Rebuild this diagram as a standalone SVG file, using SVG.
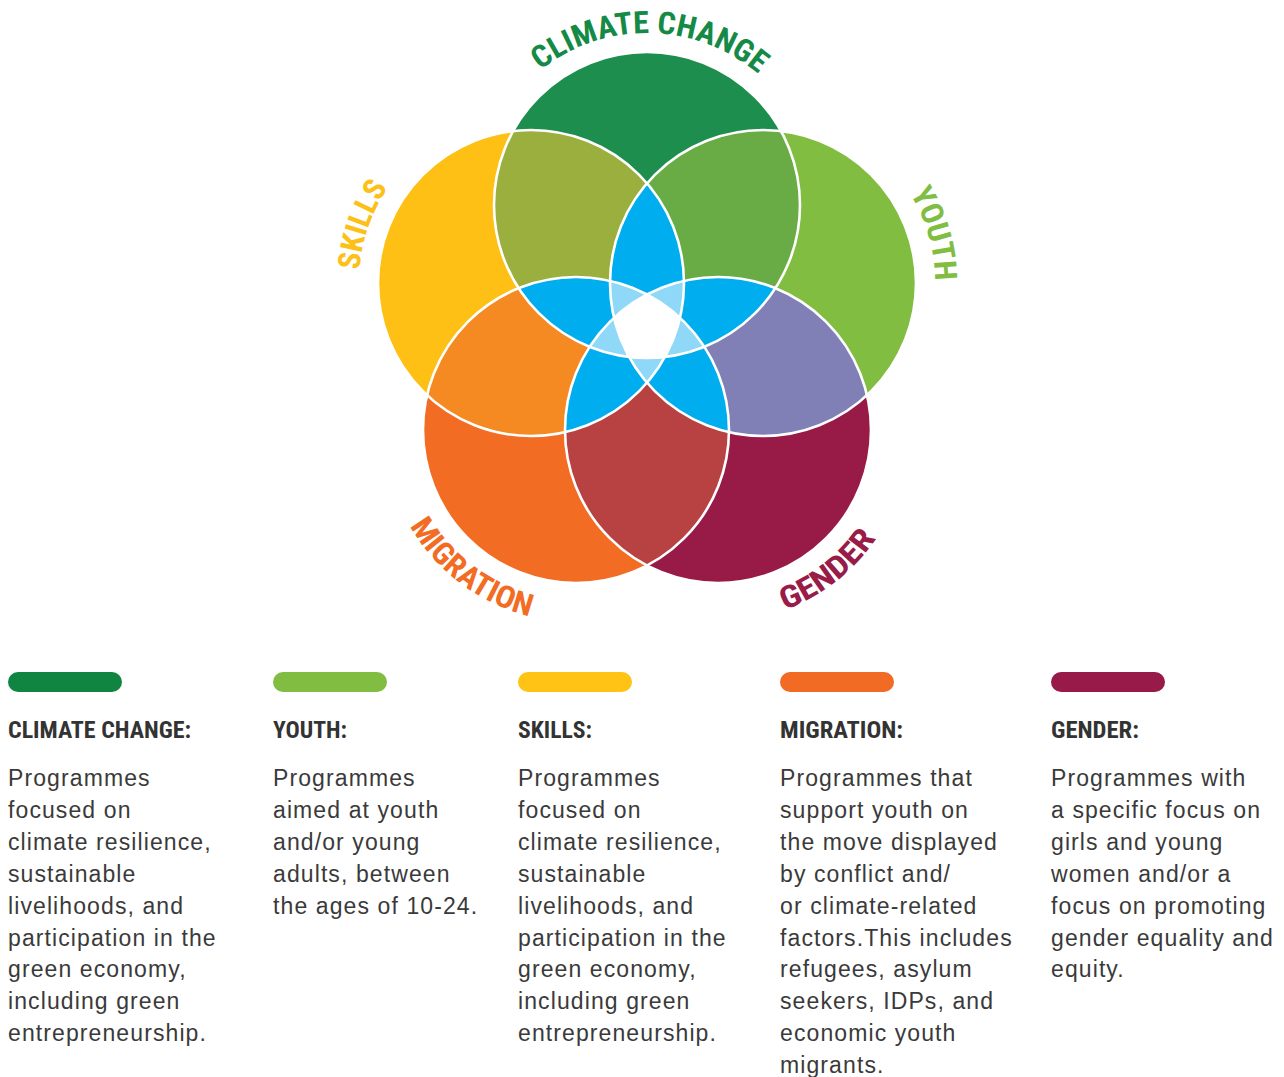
<svg xmlns="http://www.w3.org/2000/svg" width="1284" height="1077" viewBox="0 0 1284 1077">
<style>
.lbl{font-family:"Liberation Sans Narrow","Roboto Condensed","DejaVu Sans Condensed","Liberation Sans",sans-serif;font-weight:bold;font-size:31px}
.hd{font-family:"Liberation Sans Narrow","Roboto Condensed","DejaVu Sans Condensed","Liberation Sans",sans-serif;font-weight:bold;font-size:23px;fill:#333333}
.body{font-family:"Liberation Sans",Arial,sans-serif;font-size:23px;letter-spacing:1.1px;fill:#3a3a3a}
.ring{fill:none;stroke:#ffffff;stroke-width:2.6}
.blue{fill:#00aeef}
.lblue{fill:#8fd8f7}
</style>
<defs>
<clipPath id="kC"><circle cx="647" cy="205" r="153"/></clipPath>
<clipPath id="kY"><circle cx="763" cy="283" r="153"/></clipPath>
<clipPath id="kG"><circle cx="718" cy="430" r="153"/></clipPath>
<clipPath id="kM"><circle cx="576" cy="430" r="153"/></clipPath>
<clipPath id="kS"><circle cx="531" cy="283" r="153"/></clipPath>
<path id="pC" d="M478.2,172.2 A172,172 0 0 1 816.9,178.1" fill="none"/>
<path id="pY" d="M745,111.9 A172,172 0 0 1 838.4,437.6" fill="none"/>
<path id="pS" d="M447.6,433.4 A172,172 0 0 1 557.9,113.1" fill="none"/>
<path id="pM" d="M404.9,342.8 A192,192 0 0 0 706.9,570.4" fill="none"/>
<path id="pG" d="M589.5,572.7 A192,192 0 0 0 887.5,339.9" fill="none"/>
</defs>

<g id="venn">
  <g id="base">
    <circle id="climate" cx="647" cy="205" r="153" fill="#1e8e4e"/>
    <circle id="youth" cx="763" cy="283" r="153" fill="#80bd41"/>
    <circle id="gender" cx="718" cy="430" r="153" fill="#981a47"/>
    <circle id="migration" cx="576" cy="430" r="153" fill="#f26c24"/>
    <circle id="skills" cx="531" cy="283" r="153" fill="#fec014"/>
  </g>
  <g id="pairs">
    <circle cx="531" cy="283" r="153" fill="#9aaf3d" clip-path="url(#kC)"/>
    <circle cx="763" cy="283" r="153" fill="#69ac45" clip-path="url(#kC)"/>
    <circle cx="718" cy="430" r="153" fill="#807fb6" clip-path="url(#kY)"/>
    <circle cx="576" cy="430" r="153" fill="#b84141" clip-path="url(#kG)"/>
    <circle cx="531" cy="283" r="153" fill="#f58a22" clip-path="url(#kM)"/>
  </g>
  <g id="triples">
    <circle class="blue" cx="718" cy="430" r="153" clip-path="url(#kC)"/>
    <circle class="blue" cx="576" cy="430" r="153" clip-path="url(#kC)"/>
    <circle class="blue" cx="576" cy="430" r="153" clip-path="url(#kY)"/>
    <circle class="blue" cx="531" cy="283" r="153" clip-path="url(#kY)"/>
    <circle class="blue" cx="531" cy="283" r="153" clip-path="url(#kG)"/>
  </g>
  <g id="quads">
    <g clip-path="url(#kY)"><g clip-path="url(#kG)"><g clip-path="url(#kM)"><circle class="lblue" cx="531" cy="283" r="153"/></g></g></g>
    <g clip-path="url(#kC)"><g clip-path="url(#kG)"><g clip-path="url(#kM)"><circle class="lblue" cx="531" cy="283" r="153"/></g></g></g>
    <g clip-path="url(#kC)"><g clip-path="url(#kY)"><g clip-path="url(#kM)"><circle class="lblue" cx="531" cy="283" r="153"/></g></g></g>
    <g clip-path="url(#kC)"><g clip-path="url(#kY)"><g clip-path="url(#kG)"><circle class="lblue" cx="531" cy="283" r="153"/></g></g></g>
    <g clip-path="url(#kC)"><g clip-path="url(#kY)"><g clip-path="url(#kG)"><circle class="lblue" cx="576" cy="430" r="153"/></g></g></g>
  </g>
  <g id="center">
    <g clip-path="url(#kC)"><g clip-path="url(#kY)"><g clip-path="url(#kG)"><g clip-path="url(#kM)"><circle fill="#ffffff" cx="531" cy="283" r="153"/></g></g></g></g>
  </g>
  <g id="rings">
    <circle class="ring" cx="647" cy="205" r="153"/>
    <circle class="ring" cx="763" cy="283" r="153"/>
    <circle class="ring" cx="718" cy="430" r="153"/>
    <circle class="ring" cx="576" cy="430" r="153"/>
    <circle class="ring" cx="531" cy="283" r="153"/>
  </g>
</g>

<g id="label-climate"><text class="lbl" fill="#148a46"><textPath href="#pC" startOffset="50%" text-anchor="middle" textLength="236" lengthAdjust="spacingAndGlyphs">CLIMATE CHANGE</textPath></text></g>
<g id="label-youth"><text class="lbl" fill="#80bd41"><textPath href="#pY" startOffset="50%" text-anchor="middle" textLength="92" lengthAdjust="spacingAndGlyphs">YOUTH</textPath></text></g>
<g id="label-skills"><text class="lbl" fill="#fdc016"><textPath href="#pS" startOffset="50%" text-anchor="middle" textLength="88" lengthAdjust="spacingAndGlyphs">SKILLS</textPath></text></g>
<g id="label-migration"><text class="lbl" fill="#f26c23"><textPath href="#pM" startOffset="50%" text-anchor="middle" textLength="154" lengthAdjust="spacingAndGlyphs">MIGRATION</textPath></text></g>
<g id="label-gender"><text class="lbl" fill="#981b48"><textPath href="#pG" startOffset="50%" text-anchor="middle" textLength="118" lengthAdjust="spacingAndGlyphs">GENDER</textPath></text></g>

<g id="legend-climate">
  <rect x="8" y="672" width="114" height="20" rx="10" fill="#108542"/>
  <text class="hd" x="8" y="738" textLength="183" lengthAdjust="spacingAndGlyphs">CLIMATE CHANGE:</text>
  <text class="body" x="8" y="786"><tspan x="8">Programmes</tspan><tspan x="8" dy="31.9">focused on</tspan><tspan x="8" dy="31.9">climate resilience,</tspan><tspan x="8" dy="31.9">sustainable</tspan><tspan x="8" dy="31.9">livelihoods, and</tspan><tspan x="8" dy="31.9">participation in the</tspan><tspan x="8" dy="31.9">green economy,</tspan><tspan x="8" dy="31.9">including green</tspan><tspan x="8" dy="31.9">entrepreneurship.</tspan></text>
</g>
<g id="legend-youth">
  <rect x="273" y="672" width="114" height="20" rx="10" fill="#80bd41"/>
  <text class="hd" x="273" y="738" textLength="74" lengthAdjust="spacingAndGlyphs">YOUTH:</text>
  <text class="body" x="273" y="786"><tspan x="273">Programmes</tspan><tspan x="273" dy="31.9">aimed at youth</tspan><tspan x="273" dy="31.9">and/or young</tspan><tspan x="273" dy="31.9">adults, between</tspan><tspan x="273" dy="31.9">the ages of 10-24.</tspan></text>
</g>
<g id="legend-skills">
  <rect x="518" y="672" width="114" height="20" rx="10" fill="#fec314"/>
  <text class="hd" x="518" y="738" textLength="74" lengthAdjust="spacingAndGlyphs">SKILLS:</text>
  <text class="body" x="518" y="786"><tspan x="518">Programmes</tspan><tspan x="518" dy="31.9">focused on</tspan><tspan x="518" dy="31.9">climate resilience,</tspan><tspan x="518" dy="31.9">sustainable</tspan><tspan x="518" dy="31.9">livelihoods, and</tspan><tspan x="518" dy="31.9">participation in the</tspan><tspan x="518" dy="31.9">green economy,</tspan><tspan x="518" dy="31.9">including green</tspan><tspan x="518" dy="31.9">entrepreneurship.</tspan></text>
</g>
<g id="legend-migration">
  <rect x="780" y="672" width="114" height="20" rx="10" fill="#f26b25"/>
  <text class="hd" x="780" y="738" textLength="123" lengthAdjust="spacingAndGlyphs">MIGRATION:</text>
  <text class="body" x="780" y="786"><tspan x="780">Programmes that</tspan><tspan x="780" dy="31.9">support youth on</tspan><tspan x="780" dy="31.9">the move displayed</tspan><tspan x="780" dy="31.9">by conflict and/</tspan><tspan x="780" dy="31.9">or climate-related</tspan><tspan x="780" dy="31.9">factors.This includes</tspan><tspan x="780" dy="31.9">refugees, asylum</tspan><tspan x="780" dy="31.9">seekers, IDPs, and</tspan><tspan x="780" dy="31.9">economic youth</tspan><tspan x="780" dy="31.9">migrants.</tspan></text>
</g>
<g id="legend-gender">
  <rect x="1051" y="672" width="114" height="20" rx="10" fill="#981a48"/>
  <text class="hd" x="1051" y="738" textLength="88" lengthAdjust="spacingAndGlyphs">GENDER:</text>
  <text class="body" x="1051" y="786"><tspan x="1051">Programmes with</tspan><tspan x="1051" dy="31.9">a specific focus on</tspan><tspan x="1051" dy="31.9">girls and young</tspan><tspan x="1051" dy="31.9">women and/or a</tspan><tspan x="1051" dy="31.9">focus on promoting</tspan><tspan x="1051" dy="31.9">gender equality and</tspan><tspan x="1051" dy="31.9">equity.</tspan></text>
</g>
</svg>
